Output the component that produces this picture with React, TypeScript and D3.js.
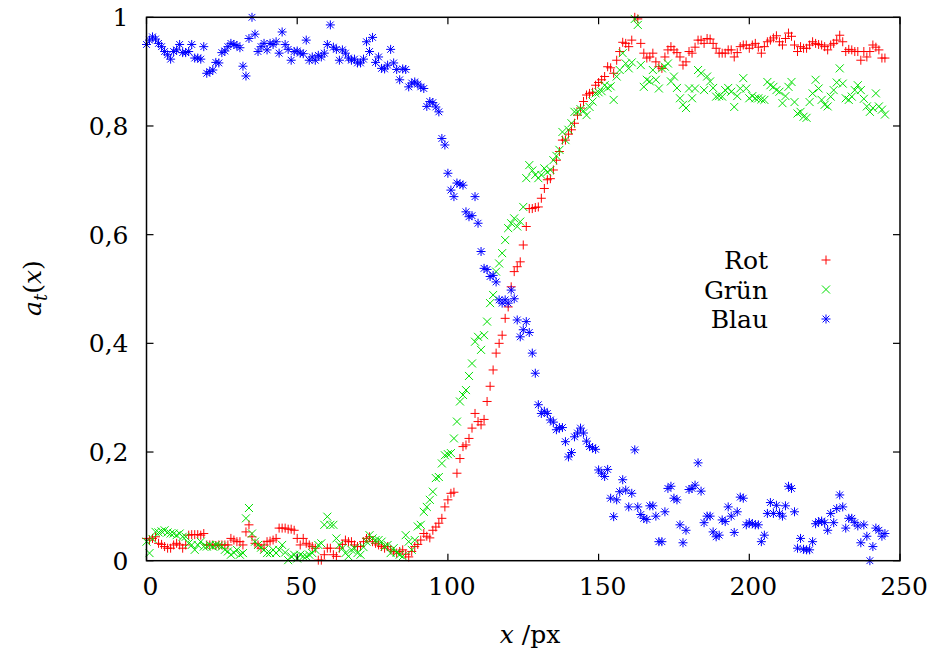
import React from 'react';
import * as d3 from 'd3';

// x position in px is the array index (0..245)
const rot = [
  0.041,0.038,0.041,0.044,0.032,0.030,0.026,0.023,0.023,0.029,
  0.032,0.029,0.023,0.029,0.047,0.048,0.048,0.048,0.047,0.050,
  0.029,0.029,0.029,0.028,0.029,0.029,0.029,0.029,0.041,0.038,
  0.035,0.035,0.029,0.053,0.066,0.044,0.032,0.029,0.023,0.029,
  0.035,0.036,0.038,0.041,0.060,0.060,0.060,0.058,0.058,0.056,
  0.041,0.029,0.041,0.032,0.029,0.026,0.023,0.001,0.001,0.011,
  0.023,0.023,0.011,0.008,0.023,0.030,0.038,0.035,0.035,0.029,
  0.026,0.026,0.035,0.041,0.044,0.035,0.032,0.029,0.026,0.023,
  0.026,0.020,0.017,0.014,0.017,0.020,0.012,0.007,0.017,0.026,
  0.030,0.038,0.050,0.045,0.042,0.056,0.062,0.069,0.078,0.099,
  0.112,0.124,0.126,0.161,0.188,0.210,0.213,0.225,0.244,0.271,
  0.256,0.250,0.260,0.293,0.321,0.351,0.382,0.400,0.415,0.446,
  0.467,0.504,0.532,0.541,0.550,0.581,0.615,0.648,0.648,0.650,
  0.651,0.667,0.685,0.701,0.703,0.719,0.737,0.753,0.774,0.774,
  0.785,0.793,0.805,0.820,0.833,0.845,0.857,0.860,0.862,0.875,
  0.880,0.885,0.891,0.909,0.907,0.897,0.921,0.937,0.954,0.952,
  0.946,0.958,1.000,0.997,0.952,0.934,0.925,0.927,0.934,0.918,
  0.909,0.906,0.927,0.940,0.946,0.940,0.935,0.927,0.912,0.918,
  0.937,0.934,0.945,0.958,0.958,0.952,0.961,0.960,0.952,0.943,
  0.934,0.934,0.934,0.940,0.940,0.927,0.935,0.946,0.949,0.949,
  0.943,0.949,0.952,0.945,0.934,0.946,0.955,0.958,0.962,0.966,
  0.955,0.949,0.961,0.971,0.965,0.949,0.937,0.946,0.943,0.943,
  0.949,0.955,0.952,0.950,0.949,0.946,0.940,0.949,0.952,0.958,
  0.967,0.955,0.937,0.941,0.940,0.937,0.937,0.921,0.937,0.927,
  0.937,0.949,0.945,0.940,0.925,0.925,
];

const gruen = [
  0.035,0.014,0.040,0.053,0.052,0.054,0.056,0.052,0.050,0.050,
  0.047,0.050,0.044,0.044,0.032,0.029,0.020,0.029,0.035,0.026,
  0.026,0.029,0.026,0.029,0.028,0.026,0.020,0.017,0.011,0.015,
  0.020,0.011,0.014,0.078,0.097,0.050,0.035,0.029,0.024,0.020,
  0.014,0.014,0.020,0.014,0.020,0.029,0.015,0.001,0.008,0.011,
  0.004,0.011,0.008,0.008,0.011,0.014,0.020,0.029,0.032,0.066,
  0.081,0.066,0.066,0.041,0.029,0.023,0.014,0.008,0.020,0.023,
  0.014,0.011,0.025,0.035,0.047,0.041,0.038,0.038,0.035,0.026,
  0.029,0.014,0.023,0.015,0.011,0.008,0.047,0.035,0.020,0.038,
  0.063,0.066,0.090,0.099,0.112,0.127,0.152,0.154,0.179,0.194,
  0.196,0.198,0.225,0.256,0.293,0.305,0.314,0.340,0.363,0.403,
  0.412,0.388,0.415,0.440,0.474,0.489,0.532,0.547,0.566,0.590,
  0.612,0.621,0.630,0.615,0.624,0.651,0.704,0.728,0.718,0.710,
  0.704,0.710,0.722,0.715,0.719,0.737,0.745,0.756,0.789,0.774,
  0.793,0.805,0.826,0.826,0.831,0.828,0.820,0.835,0.845,0.860,
  0.862,0.864,0.875,0.870,0.873,0.848,0.891,0.903,0.934,0.915,
  0.906,0.917,0.997,0.986,0.912,0.872,0.885,0.882,0.903,0.885,
  0.869,0.906,0.909,0.915,0.882,0.891,0.870,0.851,0.839,0.833,
  0.869,0.851,0.869,0.903,0.897,0.866,0.891,0.882,0.870,0.854,
  0.855,0.854,0.866,0.870,0.863,0.835,0.855,0.869,0.888,0.869,
  0.851,0.855,0.851,0.851,0.849,0.848,0.881,0.875,0.872,0.866,
  0.863,0.842,0.855,0.872,0.881,0.844,0.823,0.826,0.817,0.815,
  0.844,0.860,0.885,0.869,0.848,0.839,0.836,0.854,0.866,0.880,
  0.906,0.878,0.851,0.848,0.854,0.866,0.875,0.866,0.850,0.836,
  0.826,0.833,0.860,0.836,0.830,0.821,
];

const blau = [
  0.950,0.958,0.964,0.960,0.952,0.946,0.937,0.931,0.923,0.937,
  0.940,0.950,0.935,0.935,0.937,0.950,0.925,0.925,0.923,0.946,
  0.897,0.900,0.903,0.917,0.916,0.935,0.938,0.946,0.952,0.950,
  0.948,0.944,0.910,0.892,0.961,1.000,0.969,0.937,0.946,0.952,
  0.940,0.952,0.950,0.955,0.934,0.973,0.950,0.941,0.921,0.937,
  0.938,0.934,0.933,0.958,0.921,0.927,0.921,0.930,0.927,0.934,
  0.950,0.986,0.945,0.941,0.921,0.940,0.934,0.925,0.921,0.923,
  0.916,0.916,0.923,0.955,0.937,0.963,0.917,0.927,0.906,0.905,
  0.912,0.941,0.916,0.904,0.885,0.905,0.904,0.872,0.879,0.881,
  0.877,0.872,0.869,0.836,0.845,0.843,0.835,0.826,0.777,0.765,
  0.713,0.682,0.670,0.695,0.693,0.691,0.642,0.633,0.635,0.670,
  0.621,0.569,0.538,0.536,0.523,0.525,0.513,0.480,0.474,0.480,
  0.474,0.498,0.482,0.443,0.412,0.425,0.440,0.420,0.382,0.345,
  0.287,0.271,0.275,0.271,0.259,0.255,0.241,0.245,0.245,0.219,
  0.191,0.199,0.228,0.235,0.244,0.235,0.220,0.210,0.208,0.205,
  0.167,0.161,0.155,0.168,0.115,0.081,0.112,0.127,0.149,0.130,
  0.099,0.124,0.204,0.099,0.085,0.078,0.076,0.101,0.101,0.082,
  0.035,0.035,0.090,0.133,0.137,0.115,0.112,0.066,0.033,0.056,
  0.131,0.133,0.139,0.180,0.128,0.070,0.082,0.082,0.053,0.044,
  0.047,0.075,0.072,0.099,0.082,0.052,0.090,0.117,0.115,0.066,
  0.070,0.068,0.066,0.066,0.035,0.047,0.087,0.107,0.087,0.102,
  0.087,0.082,0.101,0.137,0.133,0.090,0.023,0.041,0.021,0.020,
  0.020,0.035,0.068,0.072,0.073,0.070,0.056,0.087,0.070,0.096,
  0.121,0.099,0.060,0.078,0.078,0.070,0.064,0.033,0.066,0.045,
  0.000,0.026,0.060,0.056,0.045,0.050,
];

const xTicks = [0, 50, 100, 150, 200, 250];
const yTicks = [0, 0.2, 0.4, 0.6, 0.8, 1];
const yTickLabels = ['0', '0,2', '0,4', '0,6', '0,8', '1'];

const W = 928;
const H = 653;
const left = 146.5, right = 900, top = 17.3, bottom = 560.7;
const FONT = 'DejaVu Serif';

// gnuplot point types: + , x , *
const plus = (s: number) => `M${-s},0H${s}M0,${-s}V${s}`;
const cross = (s: number) => `M${-s},${-s}L${s},${s}M${-s},${s}L${s},${-s}`;
const star = (s: number) => plus(s) + cross(s * 0.75);

const series = [
  { name: 'Rot', color: '#ff0000', values: rot, shape: plus(4.5) },
  { name: 'Grün', color: '#00e000', values: gruen, shape: cross(4) },
  { name: 'Blau', color: '#0000ff', values: blau, shape: star(4.5) },
];

export default function App() {
  const x = d3.scaleLinear().domain([0, 250]).range([left, right]);
  const y = d3.scaleLinear().domain([0, 1]).range([bottom, top]);
  const tick = 7;
  const fs = 25;

  return (
    <svg width={W} height={H} style={{ position: 'absolute', left: 0, top: 0, background: '#fff' }}>
      <rect x={0} y={0} width={W} height={H} fill="#fff" />

      {/* points */}
      {series.map(s => (
        <g key={s.name} stroke={s.color} strokeWidth={1} fill="none">
          {s.values.map((v, i) => (
            <path key={i} d={s.shape} transform={`translate(${x(i)},${y(v)})`} />
          ))}
        </g>
      ))}

      {/* frame */}
      <rect x={left} y={top} width={right - left} height={bottom - top}
        fill="none" stroke="#000" strokeWidth={1.5} />

      <g fontFamily={FONT} fontSize={fs} fill="#000">
        {/* y ticks */}
        {yTicks.map((t, i) => (
          <g key={'y' + t}>
            <line x1={left} x2={left + tick} y1={y(t)} y2={y(t)} stroke="#000" strokeWidth={1.2} />
            <line x1={right} x2={right - tick} y1={y(t)} y2={y(t)} stroke="#000" strokeWidth={1.2} />
            <text x={left - 18} y={y(t) + 9} textAnchor="end">{yTickLabels[i]}</text>
          </g>
        ))}

        {/* x ticks */}
        {xTicks.map(t => (
          <g key={'x' + t}>
            <line x1={x(t)} x2={x(t)} y1={bottom} y2={bottom - tick} stroke="#000" strokeWidth={1.2} />
            <line x1={x(t)} x2={x(t)} y1={top} y2={top + tick} stroke="#000" strokeWidth={1.2} />
            <text x={x(t) + 4} y={595} textAnchor="middle">{t}</text>
          </g>
        ))}

        {/* axis labels */}
        <text x={530} y={643} textAnchor="middle">
          <tspan fontStyle="italic">x</tspan> /px
        </text>
        <text transform="translate(41,288) rotate(-90)" textAnchor="middle">
          <tspan fontStyle="italic">a</tspan>
          <tspan fontStyle="italic" fontSize={18} dy={6}>t</tspan>
          <tspan dy={-6}>(</tspan>
          <tspan fontStyle="italic">x</tspan>
          <tspan>)</tspan>
        </text>

        {/* legend */}
        {series.map((s, i) => (
          <g key={'leg' + s.name} transform={`translate(0,${260 + i * 29.5})`}>
            <text x={768} y={9} textAnchor="end">{s.name}</text>
            <path d={s.shape} transform="translate(826,0)" stroke={s.color} strokeWidth={1} fill="none" />
          </g>
        ))}
      </g>
    </svg>
  );
}
